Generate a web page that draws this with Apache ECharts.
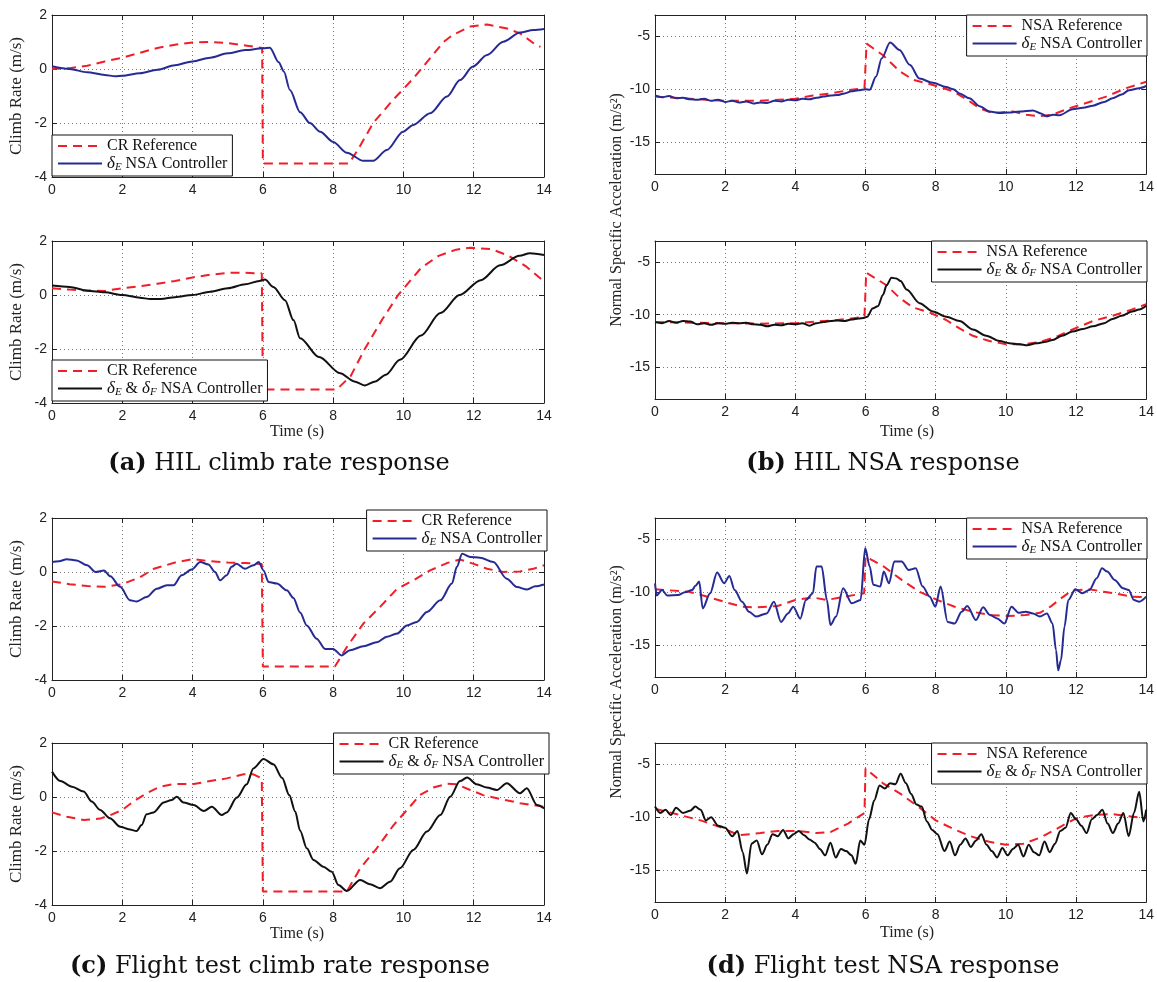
<!DOCTYPE html>
<html>
<head>
<meta charset="utf-8">
<script src="https://cdn.jsdelivr.net/npm/echarts@6/dist/echarts.min.js"></script>
<style>
  html, body { margin: 0; background: #fff; }
  #chart { width: 1157px; height: 982px; }
</style>
</head>
<body>
<div id="chart"></div>
<script>
// [time (s), value] pairs

// (a) HIL climb rate, top: CR reference / delta_E controller
const aTopRef = [[0,0],[0.5,0.03],[1,0.12],[1.5,0.28],[2,0.42],[2.5,0.6],[3,0.78],[3.5,0.9],[4,0.98],[4.5,1.0],[5,0.96],[5.5,0.87],[5.98,0.78],[6,-3.5],[8.45,-3.5],[8.7,-3.0],[9.14,-2.0],[9.7,-1.15],[10.28,-0.35],[10.76,0.4],[11.14,1.0],[11.4,1.26],[11.9,1.57],[12.38,1.65],[12.95,1.5],[13.32,1.32],[13.75,0.91],[13.9,0.82]];
const aTopCtl = [[0,0.1],[0.5,0.0],[1,-0.12],[1.5,-0.22],[1.8,-0.27],[2,-0.25],[2.5,-0.16],[3,-0.03],[3.5,0.14],[4,0.28],[4.5,0.42],[5,0.58],[5.5,0.7],[6,0.77],[6.2,0.79],[6.45,0.25],[6.6,-0.1],[6.77,-0.78],[7.06,-1.6],[7.34,-2.0],[7.63,-2.32],[8,-2.7],[8.39,-3.1],[8.86,-3.4],[9.14,-3.4],[9.53,-3.0],[9.99,-2.32],[10.28,-2.07],[10.76,-1.64],[11.24,-1.02],[11.61,-0.41],[11.98,0.09],[12.38,0.52],[12.84,1.01],[13.32,1.35],[13.7,1.44],[14,1.48]];

// (a) HIL climb rate, bottom: CR reference / delta_E & delta_F controller
const aBotRef = [[0,0.25],[0.5,0.2],[1,0.17],[1.5,0.15],[2,0.25],[2.5,0.32],[3,0.42],[3.5,0.52],[4,0.65],[4.5,0.75],[5,0.82],[5.5,0.82],[5.97,0.8],[6,-3.5],[8.1,-3.5],[8.5,-3.0],[8.9,-2.0],[9.4,-0.9],[9.85,0.0],[10.5,1.0],[11,1.45],[11.5,1.68],[11.9,1.75],[12.5,1.7],[13,1.45],[13.5,1.05],[14,0.5]];
const aBotCtl = [[0,0.35],[0.5,0.3],[1,0.16],[1.5,0.1],[2,0.0],[2.5,-0.1],[2.8,-0.15],[3.1,-0.15],[3.5,-0.08],[4,0.0],[4.5,0.12],[5,0.25],[5.5,0.4],[5.9,0.52],[6.06,0.57],[6.3,0.3],[6.63,-0.19],[6.87,-0.93],[7.06,-1.6],[7.6,-2.3],[8.2,-2.9],[8.6,-3.2],[8.9,-3.35],[9.2,-3.2],[9.5,-2.95],[9.9,-2.4],[10.5,-1.5],[11.05,-0.67],[11.6,0.0],[12.2,0.55],[12.75,1.1],[13.3,1.45],[13.6,1.55],[14,1.48]];

// (b) HIL NSA, top
const bTopRef = [[0,-10.7],[1,-10.9],[2,-11.1],[3,-11.1],[4,-10.9],[4.5,-10.6],[5,-10.4],[5.5,-10.1],[5.97,-9.9],[6.03,-5.7],[6.5,-6.8],[6.97,-8.3],[7.35,-9.1],[7.92,-9.6],[8.5,-10.2],[8.9,-11.0],[9.25,-11.8],[9.63,-12.25],[10.2,-12.1],[10.58,-12.4],[10.96,-12.55],[11.33,-12.4],[11.8,-11.8],[12.29,-11.3],[12.86,-10.7],[13.43,-9.9],[14,-9.3]];
const bTopCtl = [[0,-10.6],[0.2,-10.75],[0.4,-10.65],[0.6,-10.85],[0.8,-10.8],[1.0,-10.95],[1.2,-11.0],[1.4,-10.9],[1.6,-11.1],[1.8,-11.0],[2.0,-11.2],[2.2,-11.1],[2.4,-11.25],[2.6,-11.15],[2.8,-11.35],[3.0,-11.25],[3.2,-11.3],[3.4,-11.1],[3.6,-11.15],[3.8,-11.0],[4.0,-11.05],[4.2,-10.9],[4.4,-10.95],[4.6,-10.8],[4.8,-10.7],[5.0,-10.6],[5.2,-10.55],[5.4,-10.4],[5.6,-10.2],[5.8,-10.1],[6.0,-10.0],[6.12,-10.05],[6.3,-8.8],[6.46,-7.1],[6.7,-5.6],[6.97,-6.3],[7.26,-7.7],[7.54,-9.0],[7.92,-9.4],[8.3,-9.8],[8.5,-10.0],[8.68,-10.4],[8.96,-10.85],[9.25,-11.6],[9.53,-12.1],[9.82,-12.25],[10.1,-12.2],[10.39,-12.1],[10.77,-12.0],[11.0,-12.3],[11.15,-12.55],[11.35,-12.4],[11.53,-12.45],[11.9,-11.9],[12.2,-11.75],[12.48,-11.55],[12.8,-11.2],[13.04,-10.85],[13.3,-10.5],[13.51,-10.1],[13.8,-9.9],[14,-9.7]];

// (b) HIL NSA, bottom
const bBotRef = [[0,-10.7],[1,-10.75],[2,-10.8],[3,-10.85],[4,-10.8],[5,-10.55],[5.5,-10.4],[5.97,-10.2],[6.02,-6.0],[6.6,-7.2],[6.97,-8.4],[7.35,-9.3],[7.83,-9.8],[8.3,-10.5],[8.68,-11.3],[9.06,-12.0],[9.53,-12.5],[10.01,-12.8],[10.48,-12.8],[10.96,-12.6],[11.44,-12.1],[11.9,-11.4],[12.48,-10.6],[13.04,-10.1],[13.6,-9.5],[14,-9.0]];
const bBotCtl = [[0,-10.7],[0.2,-10.8],[0.4,-10.6],[0.6,-10.75],[0.8,-10.6],[1.0,-10.65],[1.2,-10.9],[1.4,-10.8],[1.6,-10.95],[1.8,-10.8],[2.0,-10.85],[2.2,-10.75],[2.4,-10.8],[2.6,-10.75],[2.8,-10.9],[3.0,-10.95],[3.2,-11.1],[3.4,-10.95],[3.6,-11.0],[3.8,-10.85],[4.0,-10.9],[4.2,-10.8],[4.4,-11.05],[4.6,-10.8],[4.8,-10.7],[5.0,-10.6],[5.2,-10.55],[5.4,-10.6],[5.6,-10.45],[5.8,-10.35],[5.95,-10.3],[6.05,-10.2],[6.2,-9.4],[6.35,-9.2],[6.5,-8.1],[6.6,-7.2],[6.74,-6.5],[6.88,-6.55],[7.0,-6.8],[7.17,-7.6],[7.54,-8.9],[7.92,-9.7],[8.3,-10.2],[8.68,-10.6],[9.06,-11.4],[9.44,-12.0],[9.82,-12.5],[10.1,-12.7],[10.39,-12.8],[10.6,-12.9],[10.87,-12.7],[11.1,-12.6],[11.33,-12.4],[11.6,-12.0],[11.9,-11.6],[12.2,-11.35],[12.48,-11.1],[12.8,-10.8],[13.04,-10.4],[13.3,-10.1],[13.6,-9.7],[13.8,-9.5],[14,-9.15]];

// (c) flight test climb rate, top
const cTopRef = [[0,-0.35],[0.5,-0.45],[1,-0.52],[1.5,-0.55],[2,-0.45],[2.5,-0.2],[2.9,0.12],[3.5,0.35],[4,0.48],[4.5,0.4],[5,0.35],[5.5,0.33],[5.97,0.3],[6,-3.5],[8.05,-3.5],[8.39,-2.78],[8.86,-1.91],[9.33,-1.3],[9.82,-0.62],[10.28,-0.31],[10.76,0.06],[11.24,0.33],[11.61,0.46],[11.98,0.31],[12.38,0.12],[12.84,0.0],[13.32,0.02],[13.7,0.12],[14,0.25]];
const cTopCtl = [[0,0.37],[0.2,0.4],[0.42,0.47],[0.7,0.43],[1.0,0.25],[1.24,0.0],[1.48,0.06],[1.66,-0.16],[1.94,-0.55],[2.22,-1.05],[2.41,-1.09],[2.69,-0.93],[2.98,-0.62],[3.27,-0.49],[3.46,-0.49],[3.69,-0.12],[3.97,0.09],[4.22,0.37],[4.45,0.28],[4.64,0.0],[4.78,-0.31],[4.97,-0.12],[5.11,0.19],[5.25,0.31],[5.49,0.12],[5.73,0.25],[5.88,0.37],[6.02,0.06],[6.16,-0.37],[6.4,-0.43],[6.68,-0.68],[6.87,-0.96],[7.06,-1.5],[7.25,-1.98],[7.53,-2.47],[7.77,-2.85],[8.0,-2.85],[8.24,-3.09],[8.48,-2.9],[8.86,-2.75],[9.24,-2.6],[9.53,-2.4],[9.82,-2.28],[10.1,-1.98],[10.38,-1.85],[10.67,-1.48],[11.05,-1.05],[11.38,-0.43],[11.52,0.19],[11.67,0.68],[11.9,0.56],[12.18,0.53],[12.56,0.37],[12.94,-0.25],[13.23,-0.56],[13.52,-0.65],[13.75,-0.53],[14,-0.46]];

// (c) flight test climb rate, bottom
const cBotRef = [[0,-0.57],[0.42,-0.73],[0.9,-0.85],[1.37,-0.8],[1.66,-0.67],[2.0,-0.48],[2.31,-0.17],[2.69,0.14],[3.07,0.38],[3.46,0.48],[4.03,0.48],[4.5,0.59],[4.97,0.69],[5.45,0.84],[5.73,0.84],[5.97,0.69],[6,-3.5],[8.39,-3.5],[8.77,-2.64],[9.24,-1.9],[9.72,-1.04],[10.1,-0.48],[10.47,0.07],[10.85,0.35],[11.24,0.49],[11.52,0.47],[11.9,0.26],[12.27,0.07],[12.75,-0.07],[13.32,-0.23],[14,-0.36]];
const cBotCtl = [[0,0.94],[0.24,0.59],[0.57,0.38],[0.9,0.2],[1.13,-0.17],[1.37,-0.48],[1.65,-0.79],[1.94,-1.1],[2.18,-1.19],[2.41,-1.26],[2.55,-1.04],[2.69,-0.64],[2.89,-0.57],[3.18,-0.2],[3.41,-0.11],[3.55,0.01],[3.74,-0.2],[4.03,-0.3],[4.32,-0.52],[4.55,-0.36],[4.83,-0.67],[4.97,-0.57],[5.26,-0.02],[5.54,0.47],[5.73,1.06],[6.02,1.41],[6.3,1.21],[6.55,0.7],[6.75,0.07],[6.92,-0.54],[7.06,-1.25],[7.25,-1.9],[7.44,-2.33],[7.72,-2.58],[7.96,-2.77],[8.15,-3.26],[8.39,-3.48],[8.77,-3.07],[9.05,-3.23],[9.33,-3.38],[9.62,-3.14],[9.9,-2.64],[10.28,-1.96],[10.67,-1.28],[11.05,-0.67],[11.33,0.01],[11.61,0.59],[11.81,0.72],[12.09,0.47],[12.37,0.35],[12.66,0.26],[12.94,0.51],[13.32,0.14],[13.51,0.32],[13.8,-0.3],[14,-0.42]];

// (d) flight test NSA, top
const dTopRef = [[0,-9.73],[0.96,-9.95],[1.47,-10.4],[1.97,-10.9],[2.48,-11.37],[2.88,-11.43],[3.49,-11.3],[4.0,-10.73],[4.5,-10.5],[4.9,-10.73],[5.41,-10.42],[5.96,-10.1],[6.0,-6.63],[6.52,-7.58],[7.03,-8.84],[7.53,-9.95],[8.04,-10.73],[8.54,-11.37],[9.05,-11.84],[9.55,-12.16],[10.06,-12.25],[10.56,-12.16],[10.97,-11.94],[11.27,-11.37],[11.57,-10.58],[11.88,-9.85],[12.38,-9.73],[12.79,-9.95],[13.19,-10.17],[13.6,-10.42],[14,-10.48]];
const dTopCtl = [[0,-9.16],[0.05,-10.3],[0.2,-9.8],[0.35,-10.3],[0.66,-10.26],[0.85,-10.0],[1.06,-9.79],[1.15,-9.4],[1.26,-9.0],[1.36,-11.53],[1.57,-10.1],[1.77,-8.15],[1.97,-9.16],[2.12,-8.46],[2.27,-9.79],[2.48,-10.9],[2.68,-11.84],[2.88,-12.3],[3.18,-12.0],[3.39,-10.9],[3.59,-12.8],[3.79,-12.0],[3.94,-11.37],[4.14,-12.5],[4.3,-10.74],[4.5,-10.1],[4.6,-7.58],[4.75,-7.58],[4.9,-10.74],[5.0,-13.1],[5.16,-12.3],[5.36,-9.63],[5.61,-11.05],[5.86,-10.74],[5.99,-5.84],[6.12,-7.58],[6.22,-9.3],[6.42,-9.47],[6.52,-8.05],[6.67,-9.16],[6.82,-7.1],[7.03,-7.1],[7.23,-7.9],[7.43,-7.74],[7.63,-9.47],[7.83,-10.42],[7.99,-11.37],[8.14,-9.47],[8.34,-12.8],[8.54,-12.95],[8.74,-11.84],[8.9,-11.3],[9.15,-12.63],[9.35,-11.43],[9.55,-12.16],[9.75,-12.47],[9.96,-12.95],[10.16,-11.37],[10.36,-11.94],[10.56,-11.84],[10.77,-12.0],[10.97,-12.3],[11.17,-12.0],[11.33,-12.95],[11.43,-15.47],[11.49,-17.37],[11.57,-16.42],[11.67,-13.26],[11.78,-10.74],[11.98,-9.73],[12.18,-10.1],[12.38,-9.79],[12.59,-8.68],[12.74,-7.74],[12.89,-8.05],[13.1,-8.84],[13.34,-9.63],[13.5,-9.79],[13.65,-10.74],[13.8,-10.9],[14,-10.42]];

// (d) flight test NSA, bottom
const dBotRef = [[0,-9.2],[0.6,-9.7],[1.3,-10.3],[1.9,-11.0],[2.4,-11.7],[3.0,-11.5],[3.5,-11.3],[4.1,-11.3],[4.6,-11.5],[5.0,-11.4],[5.5,-10.6],[5.97,-9.6],[6.0,-5.4],[6.5,-6.8],[7.0,-7.8],[7.5,-9.0],[8.0,-10.3],[8.5,-11.1],[9.0,-11.8],[9.5,-12.3],[10.0,-12.6],[10.5,-12.5],[11.0,-11.9],[11.5,-11.0],[12.0,-10.1],[12.5,-9.8],[13.0,-9.7],[13.5,-9.9],[14,-10.1]];
const dBotCtl = [[0,-9.0],[0.15,-9.6],[0.3,-9.3],[0.45,-9.8],[0.6,-9.1],[0.8,-9.6],[1.0,-9.4],[1.15,-9.0],[1.3,-9.3],[1.45,-10.3],[1.6,-10.0],[1.8,-10.8],[2.0,-11.0],[2.2,-11.8],[2.35,-11.3],[2.5,-13.3],[2.62,-15.3],[2.75,-12.5],[2.9,-12.2],[3.05,-13.5],[3.2,-12.6],[3.35,-11.6],[3.5,-11.8],[3.65,-11.2],[3.8,-12.0],[3.95,-11.6],[4.1,-11.3],[4.25,-11.7],[4.4,-12.1],[4.55,-12.4],[4.7,-13.0],[4.85,-13.6],[5.0,-12.4],[5.15,-13.8],[5.3,-13.0],[5.45,-13.2],[5.6,-13.6],[5.72,-14.4],[5.85,-12.2],[5.97,-12.6],[6.1,-10.2],[6.25,-8.4],[6.4,-7.0],[6.55,-7.3],[6.7,-6.8],[6.85,-6.9],[7.0,-5.9],[7.15,-6.8],[7.3,-7.8],[7.45,-8.8],[7.6,-9.0],[7.75,-10.4],[7.9,-11.2],[8.05,-11.6],[8.25,-13.2],[8.4,-12.3],[8.55,-13.6],[8.7,-12.6],[8.85,-12.0],[9.0,-12.8],[9.15,-12.2],[9.3,-11.6],[9.45,-12.6],[9.6,-13.2],[9.75,-13.8],[9.9,-12.9],[10.05,-13.6],[10.2,-13.0],[10.35,-12.6],[10.5,-13.7],[10.65,-12.6],[10.8,-13.3],[10.95,-13.6],[11.1,-12.3],[11.25,-13.3],[11.4,-12.5],[11.55,-11.3],[11.7,-11.0],[11.85,-9.6],[12.0,-10.2],[12.15,-10.8],[12.3,-11.5],[12.45,-10.2],[12.6,-9.8],[12.75,-9.3],[12.9,-10.6],[13.05,-11.5],[13.2,-10.6],[13.35,-9.6],[13.5,-11.8],[13.65,-9.6],[13.8,-7.6],[13.92,-10.4],[14,-9.3]];

const xTicks = { min: 0, max: 14, interval: 2 };
const crTicks = { min: -4, max: 2, interval: 2 };
const nsaTicks = { min: -18, max: -3, splitNumber: 3 };  // labels -15, -10, -5

const RED = '#f01e28';
const BLUE = '#262b94';
const BLACK = '#111111';
const SERIF = 'Liberation Serif';
const SANS = 'Liberation Sans';

const CR_REF = 'CR Reference';
const NSA_REF = 'NSA Reference';
const DE = 'δE NSA Controller';
const DEF = 'δE & δF NSA Controller';

const panels = [
  { box: [52, 15, 492, 162],  kind: 'cr',  ref: [CR_REF, aTopRef],  ctl: [DE, aTopCtl, BLUE],   legend: { left: 52, top: 135 } },
  { box: [52, 241, 492, 162], kind: 'cr',  ref: [CR_REF, aBotRef],  ctl: [DEF, aBotCtl, BLACK], legend: { left: 52, top: 360 } },
  { box: [655, 15, 492, 159], kind: 'nsa', ref: [NSA_REF, bTopRef], ctl: [DE, bTopCtl, BLUE],   legend: { right: 10, top: 15 } },
  { box: [655, 241, 492, 158], kind: 'nsa', ref: [NSA_REF, bBotRef], ctl: [DEF, bBotCtl, BLACK], legend: { right: 10, top: 241 } },
  { box: [52, 518, 492, 162], kind: 'cr',  ref: [CR_REF, cTopRef],  ctl: [DE, cTopCtl, BLUE],   legend: { right: 610, top: 510 } },
  { box: [52, 743, 492, 162], kind: 'cr',  ref: [CR_REF, cBotRef],  ctl: [DEF, cBotCtl, BLACK], legend: { right: 608, top: 733 } },
  { box: [655, 518, 492, 159], kind: 'nsa', ref: [NSA_REF, dTopRef], ctl: [DE, dTopCtl, BLUE],   legend: { right: 10, top: 518 } },
  { box: [655, 743, 492, 159], kind: 'nsa', ref: [NSA_REF, dBotRef], ctl: [DEF, dBotCtl, BLACK], legend: { right: 10, top: 743 } }
];

const legendLabel = (name) => {
  if (name === DE) return '{g|δ}{s|E} NSA Controller';
  if (name === DEF) return '{g|δ}{s|E} & {g|δ}{s|F} NSA Controller';
  return name;
};

const frameLine = { show: true, onZero: false, lineStyle: { color: '#222', width: 1 } };
const innerTick = { show: true, inside: true, length: 5, lineStyle: { color: '#222' } };
const gridLine = { show: true, lineStyle: { color: '#777', width: 1, type: [1, 3] } };

const grid = [], xAxis = [], yAxis = [], series = [], legend = [];

panels.forEach((p, i) => {
  const [left, top, width, height] = p.box;
  grid.push({ left, top, width, height, show: false });

  // bottom + top x axes (box frame with inward ticks)
  xAxis.push({
    type: 'value', gridIndex: i, position: 'bottom', ...xTicks,
    axisLine: frameLine, axisTick: innerTick,
    axisLabel: { margin: 6, fontFamily: SANS, fontSize: 14, color: '#222' },
    splitLine: gridLine
  });
  xAxis.push({
    type: 'value', gridIndex: i, position: 'top', ...xTicks,
    axisLine: frameLine, axisTick: innerTick, axisLabel: { show: false }, splitLine: { show: false }
  });

  const yt = p.kind === 'cr' ? crTicks : nsaTicks;
  yAxis.push({
    type: 'value', gridIndex: i, position: 'left', ...yt,
    axisLine: frameLine, axisTick: innerTick,
    axisLabel: { margin: 5, fontFamily: SANS, fontSize: 14, color: '#222', showMinLabel: p.kind === 'cr', showMaxLabel: p.kind === 'cr' },
    splitLine: gridLine,
    name: p.kind === 'cr' ? 'Climb Rate (m/s)' : '',
    nameLocation: 'middle', nameGap: 27,
    nameTextStyle: { fontFamily: SERIF, fontSize: 17, color: '#222' }
  });
  yAxis.push({
    type: 'value', gridIndex: i, position: 'right', ...yt,
    axisLine: frameLine, axisTick: innerTick, axisLabel: { show: false }, splitLine: { show: false }
  });

  series.push({
    type: 'line', name: p.ref[0], xAxisIndex: 2 * i, yAxisIndex: 2 * i, data: p.ref[1],
    symbol: 'none', showSymbol: false, animation: false,
    lineStyle: { color: RED, width: 2, type: [9, 6] }, itemStyle: { color: RED }
  });
  series.push({
    type: 'line', name: p.ctl[0], xAxisIndex: 2 * i, yAxisIndex: 2 * i, data: p.ctl[1],
    symbol: 'none', showSymbol: false, animation: false,
    smooth: 0.3, smoothMonotone: 'x',
    lineStyle: { color: p.ctl[2], width: 2 }, itemStyle: { color: p.ctl[2] }
  });

  legend.push({
    ...p.legend,
    orient: 'vertical', data: [p.ref[0], p.ctl[0]], selectedMode: false,
    backgroundColor: '#fff', borderColor: '#111', borderWidth: 1, borderRadius: 0,
    padding: [3, 5, 3, 5], itemGap: 1, itemWidth: 44, itemHeight: 12,
    itemStyle: { opacity: 0 },
    formatter: legendLabel,
    textStyle: {
      fontFamily: SERIF, fontSize: 16, color: '#111',
      rich: {
        g: { fontFamily: SERIF, fontSize: 17, fontStyle: 'italic', color: '#111' },
        s: { fontFamily: SERIF, fontSize: 11, fontStyle: 'italic', color: '#111', padding: [8, 0, 0, 0] }
      }
    }
  });
});

const txt = (x, y, text, size, extra) => ({
  type: 'text', x, y, ...(extra || {}),
  style: { text, font: size + 'px "' + SERIF + '"', fill: '#222', align: 'center', verticalAlign: 'middle', textAlign: 'center', textVerticalAlign: 'middle' }
});

const caption = (x, y, tag, text) => ({
  type: 'text', x, y,
  style: {
    text: '{b|' + tag + '} ' + text,
    fontFamily: 'DejaVu Serif', fontSize: 24, fill: '#111',
    rich: { b: { fontFamily: 'DejaVu Serif', fontSize: 24, fontWeight: 'bold', fill: '#111' } },
    align: 'center', verticalAlign: 'middle', textAlign: 'center', textVerticalAlign: 'middle'
  }
});

const graphic = [
  txt(617, 210, 'Normal Specific Acceleration (m/s²)', 16, { rotation: Math.PI / 2 }),
  txt(617, 682, 'Normal Specific Acceleration (m/s²)', 16, { rotation: Math.PI / 2 }),
  txt(297, 432, 'Time (s)', 16),
  txt(907, 432, 'Time (s)', 16),
  txt(297, 934, 'Time (s)', 16),
  txt(907, 933, 'Time (s)', 16),
  caption(279, 464, '(a)', 'HIL climb rate response'),
  caption(883, 464, '(b)', 'HIL NSA response'),
  caption(280, 967, '(c)', 'Flight test climb rate response'),
  caption(883, 967, '(d)', 'Flight test NSA response')
];

const chart = echarts.init(document.getElementById('chart'), null, { renderer: 'canvas' });
chart.setOption({
  animation: false,
  backgroundColor: '#fff',
  grid, xAxis, yAxis, series, legend, graphic
});
</script>
</body>
</html>
